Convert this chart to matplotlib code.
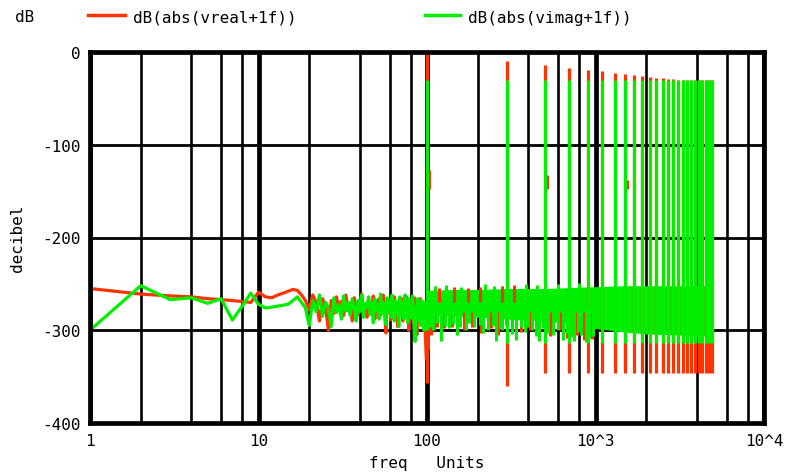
import numpy as np
import matplotlib.pyplot as plt

# ---- data ----
# low frequency part, one point per Hz (1..99)
freq_low = list(range(1, 100))
red_low = [-255, -261, -263, -264, -266, -267, -268, -269, -270, -259,
           -264, -265, -262, -260, -258, -256, -257, -262, -268,
           -278, -262, -270, -290, -266, -275, -300, -268, -282, -264,
           -276, -269, -284, -262, -279, -271, -290, -265, -277, -283,
           -268, -261, -279, -272, -286, -266, -274, -280, -263, -288,
           -270, -276, -266, -284, -273, -262, -279, -303, -270, -281,
           -267, -289, -272, -278, -264, -285, -270, -296, -275, -268,
           -282, -266, -290, -274, -279, -263, -286, -271, -300, -277,
           -269, -284, -276, -292, -265, -280, -273, -305, -270, -286,
           -278, -266, -291, -275, -283, -270, -296, -288, -310, -330]
green_low = [-300, -252, -267, -265, -271, -266, -289, -274, -260, -272,
             -276, -275, -274, -273, -272, -268, -264, -270, -276,
             -295, -268, -280, -262, -285, -270, -276, -296, -265, -281,
             -272, -288, -263, -279, -270, -284, -266, -277, -290, -268,
             -280, -262, -286, -271, -276, -264, -283, -270, -292, -266,
             -279, -272, -288, -261, -282, -270, -276, -294, -265, -280,
             -271, -286, -262, -278, -290, -268, -281, -273, -296, -264,
             -283, -270, -277, -288, -262, -280, -274, -292, -266, -282,
             -270, -287, -263, -278, -300, -312, -275, -284, -266, -290,
             -272, -281, -295, -268, -284, -276, -300, -270, -286, -279]

# dense noise floor above 100 Hz (envelope)
band_freq = [100, 150, 200, 300, 500, 700, 1000, 1500, 2000, 3000, 4000, 5000]
green_band_top = [-257, -256, -256, -255, -255, -254, -253, -252, -252, -252, -252, -252]
green_band_bot = [-284, -285, -286, -288, -290, -293, -298, -302, -304, -305, -306, -306]
red_band_top = [-258, -258, -258, -258, -257, -257, -256, -256, -256, -256, -256, -256]
red_band_bot = [-282, -283, -284, -286, -288, -291, -296, -300, -302, -303, -304, -304]

# odd harmonics of 100 Hz
harm_freq = [100, 300, 500, 700, 900, 1100, 1300, 1500, 1700, 1900, 2100, 2300, 2500,
             2700, 2900, 3100, 3300, 3500, 3700, 3900, 4100, 4300, 4500, 4700, 4900]
red_harm_top = [0, -9.5, -14.5, -17, -19.5, -21, -22.5, -24, -25, -26, -27, -28, -28.5,
                -29, -29.5, -30, -30, -30, -30, -30, -30, -30, -30, -30, -30]
red_harm_bot = [-357, -360, -346, -346, -346, -346, -346, -346, -346, -346, -346, -346, -346,
                -346, -346, -346, -346, -346, -346, -346, -346, -346, -346, -346, -346]
green_harm_top = [-30] * 25
green_harm_bot = [-300, -314, -314, -314, -314, -314, -314, -314, -314, -314, -314, -314, -314,
                  -314, -314, -314, -314, -314, -314, -314, -314, -314, -314, -314, -314]

# short red pieces just beside some harmonics
red_side_freq = [103, 515, 1530]
red_side_top = [-127, -133, -138]
red_side_bot = [-148, -148, -148]

# single noise spikes sticking out of the band
green_dn_freq = [104, 108, 114, 121, 128, 135, 143, 150, 158, 170, 178, 190, 205, 215,
                 230, 245, 257, 270, 280, 295, 320, 339, 360, 380, 400, 420, 445, 464,
                 490, 520, 560, 600, 640, 680, 720, 750, 790, 820, 875, 920, 960]
green_dn_val = [-296, -300, -292, -312, -295, -298, -293, -305, -296, -300, -292, -296, -294, -303,
                -300, -295, -312, -298, -300, -294, -304, -310, -296, -302, -297, -300, -306, -312,
                -298, -303, -305, -300, -310, -303, -307, -312, -302, -305, -313, -308, -306]
green_up_freq = [112, 130, 160, 220, 250, 385, 450, 600, 800]
green_up_val = [-252, -251, -253, -250, -252, -250, -251, -250, -249]
red_dn_freq = [102, 106, 110, 115, 126, 140, 155, 165, 185, 210, 240, 265,
               360, 410, 450, 540, 620, 680, 780, 850, 950]
red_dn_val = [-320, -305, -300, -296, -298, -297, -294, -300, -296, -303, -298, -305,
              -302, -300, -304, -306, -300, -308, -305, -310, -309]
red_up_freq = [118, 145, 175, 205, 280, 330]
red_up_val = [-254, -253, -254, -253, -252, -251]

xtick_vals = [1, 10, 100, 1000, 10000]
xtick_labels = ['1', '10', '100', '10^3', '10^4']
ytick_vals = [0, -100, -200, -300, -400]

RED = '#ff3300'
GREEN = '#00ee00'
FONT = 'DejaVu Sans Mono'
FS = 11.5

fig = plt.figure(figsize=(7.85, 4.77), dpi=100)
ax = fig.add_axes([90 / 785, 1 - 424 / 477, 674 / 785, 371 / 477])
ax.set_xscale('log')
ax.set_xlim(1, 10000)
ax.set_ylim(-400, 0)

# red trace
ax.plot(freq_low, red_low, color=RED, lw=2.3)
ax.fill_between(band_freq, red_band_bot, red_band_top, color=RED, lw=0)
ax.vlines(red_dn_freq, -280, red_dn_val, color=RED, lw=2.2)
ax.vlines(red_up_freq, -270, red_up_val, color=RED, lw=2.2)
ax.vlines(harm_freq, red_harm_bot, red_harm_top, color=RED, lw=2.3)
ax.vlines(red_side_freq, red_side_bot, red_side_top, color=RED, lw=2.2)

# green trace
ax.plot(freq_low, green_low, color=GREEN, lw=2.3)
ax.fill_between(band_freq, green_band_bot, green_band_top, color=GREEN, lw=0)
ax.vlines(green_dn_freq, -275, green_dn_val, color=GREEN, lw=2.2)
ax.vlines(green_up_freq, -265, green_up_val, color=GREEN, lw=2.2)
ax.vlines(harm_freq, green_harm_bot, green_harm_top, color=GREEN, lw=2.3)

# grid
ax.set_xticks(xtick_vals)
ax.set_xticklabels(xtick_labels)
minor = [m * d for d in [1, 10, 100, 1000] for m in [2, 4, 6, 8]]
ax.set_xticks(minor, minor=True)
ax.set_xticklabels([], minor=True)
ax.set_yticks(ytick_vals)
ax.set_yticklabels([str(v) for v in ytick_vals])
ax.set_axisbelow(True)
ax.grid(which='major', axis='x', color='k', lw=3.4)
ax.grid(which='minor', axis='x', color='k', lw=1.9)
ax.grid(which='major', axis='y', color='k', lw=2.0)
ax.tick_params(which='both', length=0, labelsize=FS, pad=7)
for lab in ax.get_xticklabels() + ax.get_yticklabels():
    lab.set_family(FONT)
for s in ax.spines.values():
    s.set_linewidth(3.4)

ax.set_xlabel('freq   Units', family=FONT, fontsize=FS, labelpad=5)
ax.set_ylabel('decibel', family=FONT, fontsize=FS, labelpad=12)

# header / legend
fig.text(15 / 785, 1 - 18 / 477, 'dB', family=FONT, fontsize=FS, va='center')
fig.add_artist(plt.Line2D([88 / 785, 125 / 785], [1 - 16 / 477] * 2, color=RED, lw=2.5))
fig.text(133 / 785, 1 - 18 / 477, 'dB(abs(vreal+1f))', family=FONT, fontsize=FS, va='center')
fig.add_artist(plt.Line2D([425 / 785, 460 / 785], [1 - 16 / 477] * 2, color=GREEN, lw=2.5))
fig.text(468 / 785, 1 - 18 / 477, 'dB(abs(vimag+1f))', family=FONT, fontsize=FS, va='center')

fig.savefig('out.png', dpi=100)
